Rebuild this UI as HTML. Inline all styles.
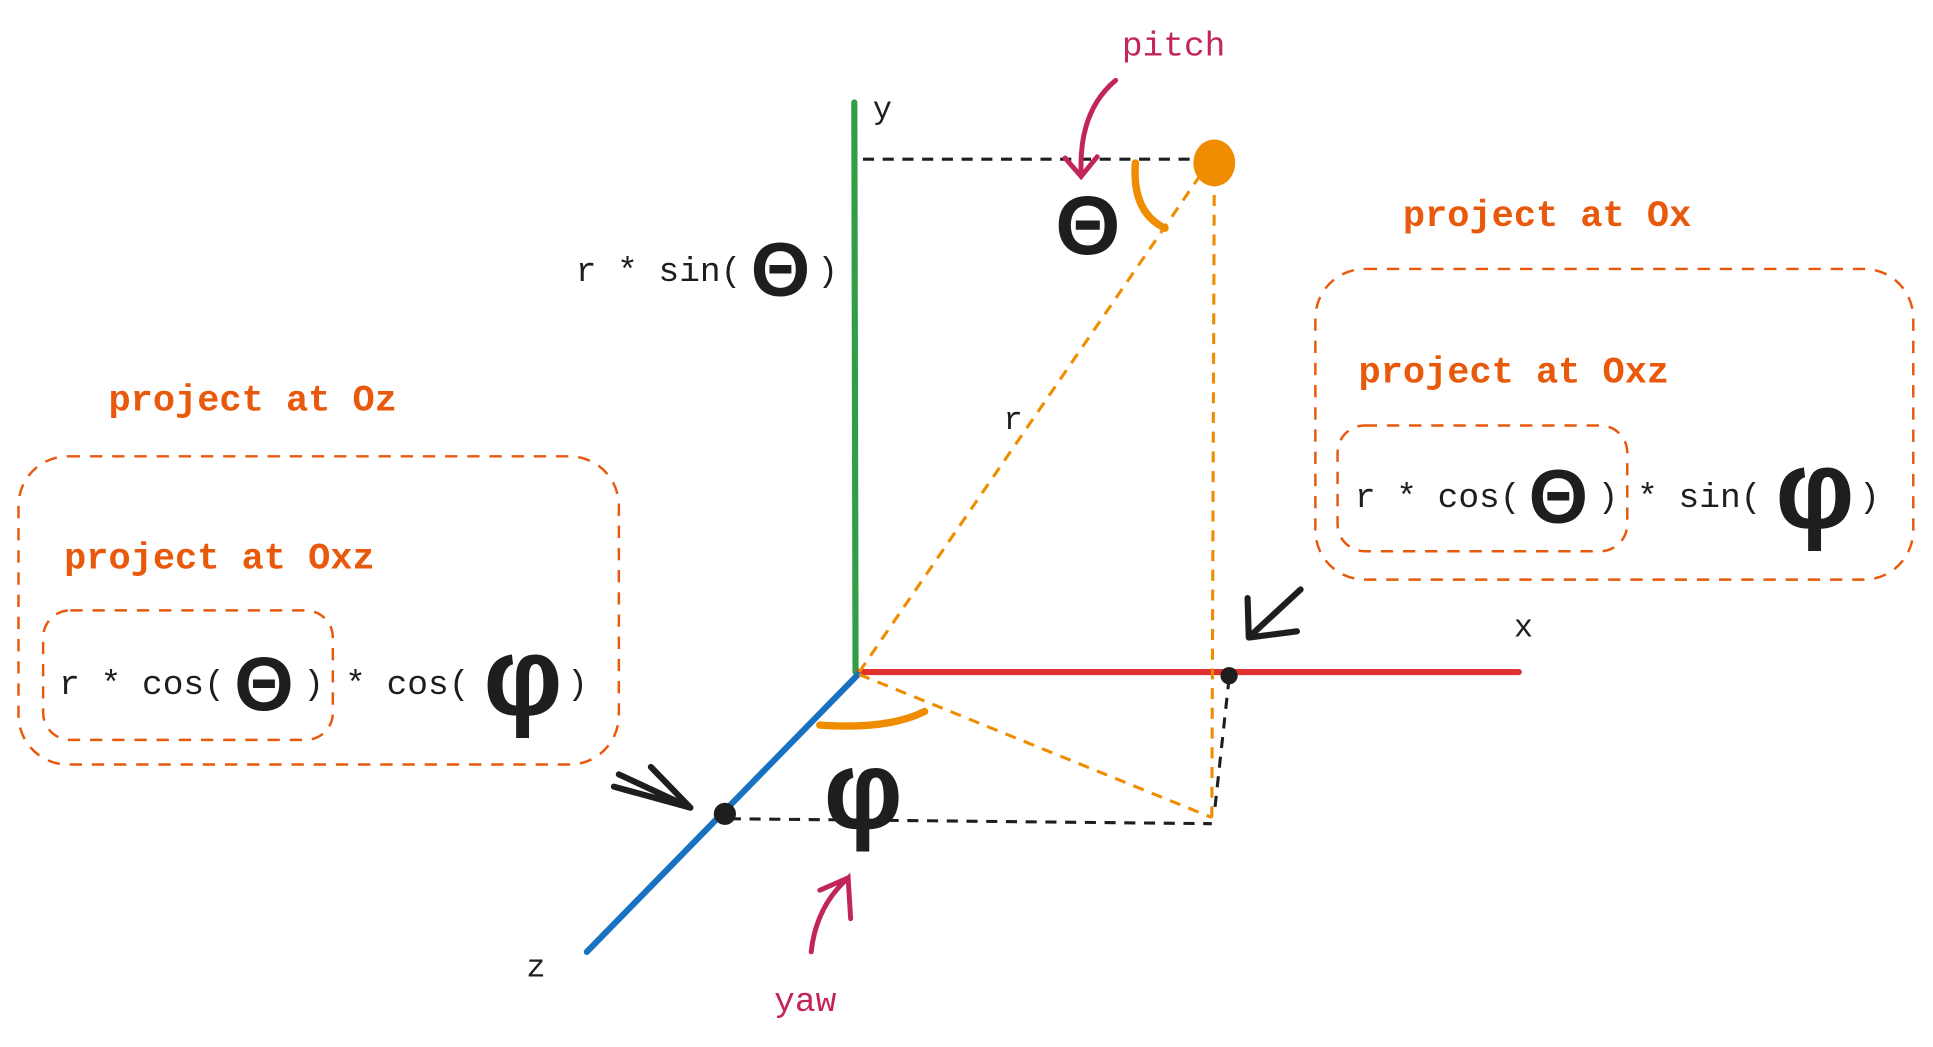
<!DOCTYPE html>
<html><head><meta charset="utf-8"><style>
html,body{margin:0;padding:0;background:#fff;}
svg{display:block;}
text{font-family:"Liberation Mono",monospace;}
.g{font-family:"Liberation Sans",sans-serif;font-weight:bold;}
</style></head><body>
<svg width="1933" height="1047" viewBox="0 0 1568 849">
<line x1="693" y1="83" x2="694" y2="545" stroke="#2f9e44" stroke-width="5" stroke-linecap="round"/>
<line x1="697" y1="545" x2="1232" y2="545" stroke="#e03131" stroke-width="5" stroke-linecap="round"/>
<line x1="696" y1="547" x2="476" y2="772" stroke="#1971c2" stroke-width="5" stroke-linecap="round"/>
<text x="708" y="96" font-size="26" fill="#1e1e1e">y</text>
<text x="1228" y="516" font-size="26" fill="#1e1e1e">x</text>
<text x="427" y="792" font-size="26" fill="#1e1e1e">z</text>
<g fill="none" stroke-dasharray="9 7" stroke-width="2.5">
<line x1="700" y1="129" x2="975" y2="129" stroke="#1e1e1e"/>
<line x1="697" y1="545" x2="975" y2="140" stroke="#f08c00"/>
<line x1="985" y1="142" x2="983" y2="664" stroke="#f08c00"/>
<line x1="697" y1="547" x2="983" y2="663" stroke="#f08c00"/>
<line x1="592" y1="664" x2="983" y2="668" stroke="#1e1e1e"/>
<line x1="997" y1="550" x2="985" y2="660" stroke="#1e1e1e"/>
</g>
<ellipse cx="985" cy="132" rx="17" ry="19" fill="#f08c00"/>
<circle cx="997" cy="548" r="7" fill="#1e1e1e"/>
<circle cx="588" cy="660" r="9" fill="#1e1e1e"/>
<text x="814" y="348" font-size="26" fill="#1e1e1e">r</text>
<path d="M921 132 Q918 172 945 185" fill="none" stroke="#f08c00" stroke-width="6" stroke-linecap="round"/>
<path d="M665 588 Q720 592 750 577" fill="none" stroke="#f08c00" stroke-width="6" stroke-linecap="round"/>
<text class="g" x="856" y="206" font-size="68" fill="#1e1e1e">Θ</text>
<text class="g" x="668" y="672" font-size="90" fill="#1e1e1e">φ</text>
<text x="910" y="45" font-size="28" fill="#c2255c">pitch</text>
<path d="M905 65 Q875 90 877 140 M864 128 L877 143 L890 127" fill="none" stroke="#c2255c" stroke-width="4" stroke-linecap="round"/>
<text x="628" y="820" font-size="28" fill="#c2255c">yaw</text>
<path d="M658 772 Q662 735 688 712 L690 745 M688 712 L665 722" fill="none" stroke="#c2255c" stroke-width="4" stroke-linecap="round"/>
<path d="M1055 478 L1015 515 M1012 485 L1013 517 L1052 512" fill="none" stroke="#1e1e1e" stroke-width="5" stroke-linecap="round" stroke-linejoin="round"/>
<path d="M498 638 L560 655 M528 622 L560 655 L502 628" fill="none" stroke="#1e1e1e" stroke-width="5" stroke-linecap="round" stroke-linejoin="round"/>
<g fill="#1e1e1e">
<text x="467" y="228" font-size="28">r * sin(</text>
<text class="g" x="609" y="240" font-size="62">Θ</text>
<text x="663" y="228" font-size="28">)</text>
</g>
<g fill="none" stroke="#e8590c" stroke-width="2" stroke-dasharray="10 8">
<rect x="1067" y="218" width="485" height="252" rx="40"/>
<rect x="1085" y="345" width="235" height="102" rx="22"/>
<rect x="15" y="370" width="487" height="250" rx="40"/>
<rect x="35" y="495" width="235" height="105" rx="22"/>
</g>
<g font-size="30" fill="#e8590c" font-weight="bold">
<text x="1138" y="183">project at Ox</text>
<text x="1102" y="310">project at Oxz</text>
<text x="88" y="333">project at Oz</text>
<text x="52" y="461">project at Oxz</text>
</g>
<g fill="#1e1e1e">
<text x="1099" y="411" font-size="28">r * cos(</text>
<text class="g" x="1240" y="424" font-size="62">Θ</text>
<text x="1296" y="411" font-size="28">)</text>
<text x="1328" y="411" font-size="28">* sin(</text>
<text class="g" x="1440" y="428" font-size="90">φ</text>
<text x="1508" y="411" font-size="28">)</text>
</g>
<g fill="#1e1e1e">
<text x="48" y="563" font-size="28">r * cos(</text>
<text class="g" x="190" y="576" font-size="62">Θ</text>
<text x="246" y="563" font-size="28">)</text>
<text x="280" y="563" font-size="28">* cos(</text>
<text class="g" x="392" y="580" font-size="90">φ</text>
<text x="460" y="563" font-size="28">)</text>
</g>
</svg>
</body></html>
